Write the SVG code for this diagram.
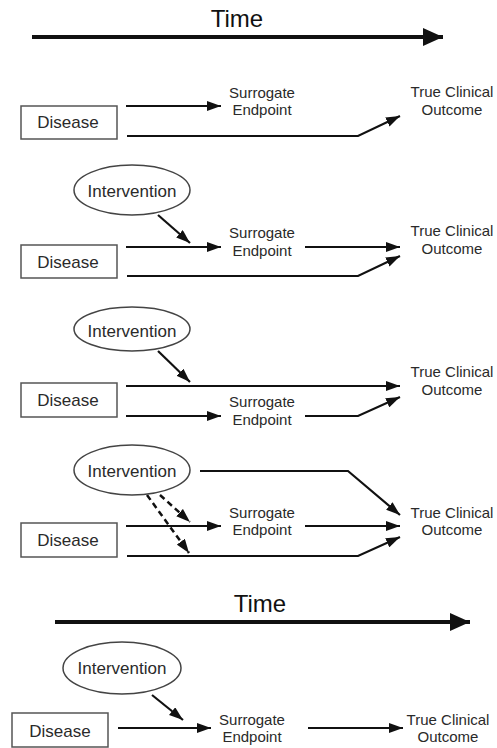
<svg xmlns="http://www.w3.org/2000/svg" width="497" height="748" viewBox="0 0 497 748">
<defs>
<marker id="ah" viewBox="0 0 14 10" refX="14" refY="5" markerWidth="14" markerHeight="10" markerUnits="userSpaceOnUse" orient="auto"><path d="M0,0 L14,5 L0,10 Z" fill="#111"/></marker>
<marker id="ahT" viewBox="0 0 20 18" refX="20" refY="9" markerWidth="20" markerHeight="18" markerUnits="userSpaceOnUse" orient="auto"><path d="M0,0 L20,9 L0,18 Z" fill="#111"/></marker>
</defs>
<style>
text{font-family:"Liberation Sans",Arial,sans-serif;fill:#2a2a2a;text-anchor:middle}
.lbl{font-size:15px}
.int{font-size:17px}
.dis{font-size:17px}
.time{font-size:24px;fill:#111}
.box{fill:#fff;stroke:#555;stroke-width:1.5}
.ell{fill:#fff;stroke:#444;stroke-width:1.5}
.ca{fill:none;stroke:#111;stroke-width:2.2;marker-end:url(#ah)}
.d{fill:none;stroke:#111;stroke-width:2.5;stroke-dasharray:6,4;marker-end:url(#ah)}
.t{fill:none;stroke:#111;stroke-width:4;marker-end:url(#ahT)}
</style>
<rect width="497" height="748" fill="#fff"/>

<g id="time1"><text class="time" x="237" y="27">Time</text></g>
<g id="time2"><text class="time" x="260" y="612">Time</text></g>

<g id="connectors">
<line class="t" x1="32" y1="37" x2="443" y2="37"/>
<line class="t" x1="55" y1="622" x2="470" y2="622"/>
<!-- panel 1 -->
<line class="ca" x1="126" y1="106" x2="221" y2="106"/>
<polyline class="ca" points="127,136 358,136 400,116"/>
<!-- panel 2 -->
<line class="ca" x1="158" y1="215" x2="190" y2="243"/>
<line class="ca" x1="126" y1="247" x2="221" y2="247"/>
<line class="ca" x1="305" y1="247" x2="400" y2="247"/>
<polyline class="ca" points="127,276 358,276 400,256"/>
<!-- panel 3 -->
<line class="ca" x1="158" y1="351" x2="190" y2="382"/>
<line class="ca" x1="126" y1="386" x2="400" y2="386"/>
<line class="ca" x1="126" y1="416" x2="221" y2="416"/>
<polyline class="ca" points="305,416 358,416 400,397"/>
<!-- panel 4 -->
<polyline class="ca" points="200,471 348,471 400,515"/>
<line class="d" x1="160" y1="495" x2="190" y2="522"/>
<line class="d" x1="147" y1="495" x2="189" y2="553"/>
<line class="ca" x1="126" y1="526" x2="221" y2="526"/>
<line class="ca" x1="305" y1="526" x2="400" y2="526"/>
<polyline class="ca" points="127,556 358,556 400,537"/>
<!-- panel 5 -->
<line class="ca" x1="152" y1="695" x2="183" y2="720"/>
<line class="ca" x1="118" y1="728" x2="211" y2="728"/>
<line class="ca" x1="308" y1="728" x2="403" y2="728"/>
</g>

<!-- panel 1 -->
<g id="disease1"><rect class="box" x="21" y="106" width="96" height="33"/><text class="dis" x="68" y="128">Disease</text></g>
<g id="surrogate1"><text class="lbl" x="262" y="98">Surrogate</text><text class="lbl" x="262" y="115">Endpoint</text></g>
<g id="outcome1"><text class="lbl" x="452" y="97">True Clinical</text><text class="lbl" x="452" y="115">Outcome</text></g>

<!-- panel 2 -->
<g id="intervention2"><ellipse class="ell" cx="132" cy="190" rx="58" ry="25"/><text class="int" x="132" y="197">Intervention</text></g>
<g id="disease2"><rect class="box" x="21" y="245" width="96" height="33"/><text class="dis" x="68" y="268">Disease</text></g>
<g id="surrogate2"><text class="lbl" x="262" y="238">Surrogate</text><text class="lbl" x="262" y="256">Endpoint</text></g>
<g id="outcome2"><text class="lbl" x="452" y="236">True Clinical</text><text class="lbl" x="452" y="254">Outcome</text></g>

<!-- panel 3 -->
<g id="intervention3"><ellipse class="ell" cx="132" cy="329" rx="58" ry="22"/><text class="int" x="132" y="337">Intervention</text></g>
<g id="disease3"><rect class="box" x="21" y="383" width="96" height="34"/><text class="dis" x="68" y="406">Disease</text></g>
<g id="surrogate3"><text class="lbl" x="262" y="407">Surrogate</text><text class="lbl" x="262" y="425">Endpoint</text></g>
<g id="outcome3"><text class="lbl" x="452" y="377">True Clinical</text><text class="lbl" x="452" y="395">Outcome</text></g>

<!-- panel 4 -->
<g id="intervention4"><ellipse class="ell" cx="132" cy="470" rx="58" ry="25"/><text class="int" x="132" y="477">Intervention</text></g>
<g id="disease4"><rect class="box" x="21" y="523" width="96" height="34"/><text class="dis" x="68" y="546">Disease</text></g>
<g id="surrogate4"><text class="lbl" x="262" y="518">Surrogate</text><text class="lbl" x="262" y="535">Endpoint</text></g>
<g id="outcome4"><text class="lbl" x="452" y="518">True Clinical</text><text class="lbl" x="452" y="535">Outcome</text></g>

<!-- panel 5 -->
<g id="intervention5"><ellipse class="ell" cx="122" cy="668" rx="59" ry="26"/><text class="int" x="122" y="674">Intervention</text></g>
<g id="disease5"><rect class="box" x="12" y="713" width="96" height="34"/><text class="dis" x="60" y="737">Disease</text></g>
<g id="surrogate5"><text class="lbl" x="252" y="725">Surrogate</text><text class="lbl" x="252" y="742">Endpoint</text></g>
<g id="outcome5"><text class="lbl" x="448" y="725">True Clinical</text><text class="lbl" x="448" y="742">Outcome</text></g>
</svg>
